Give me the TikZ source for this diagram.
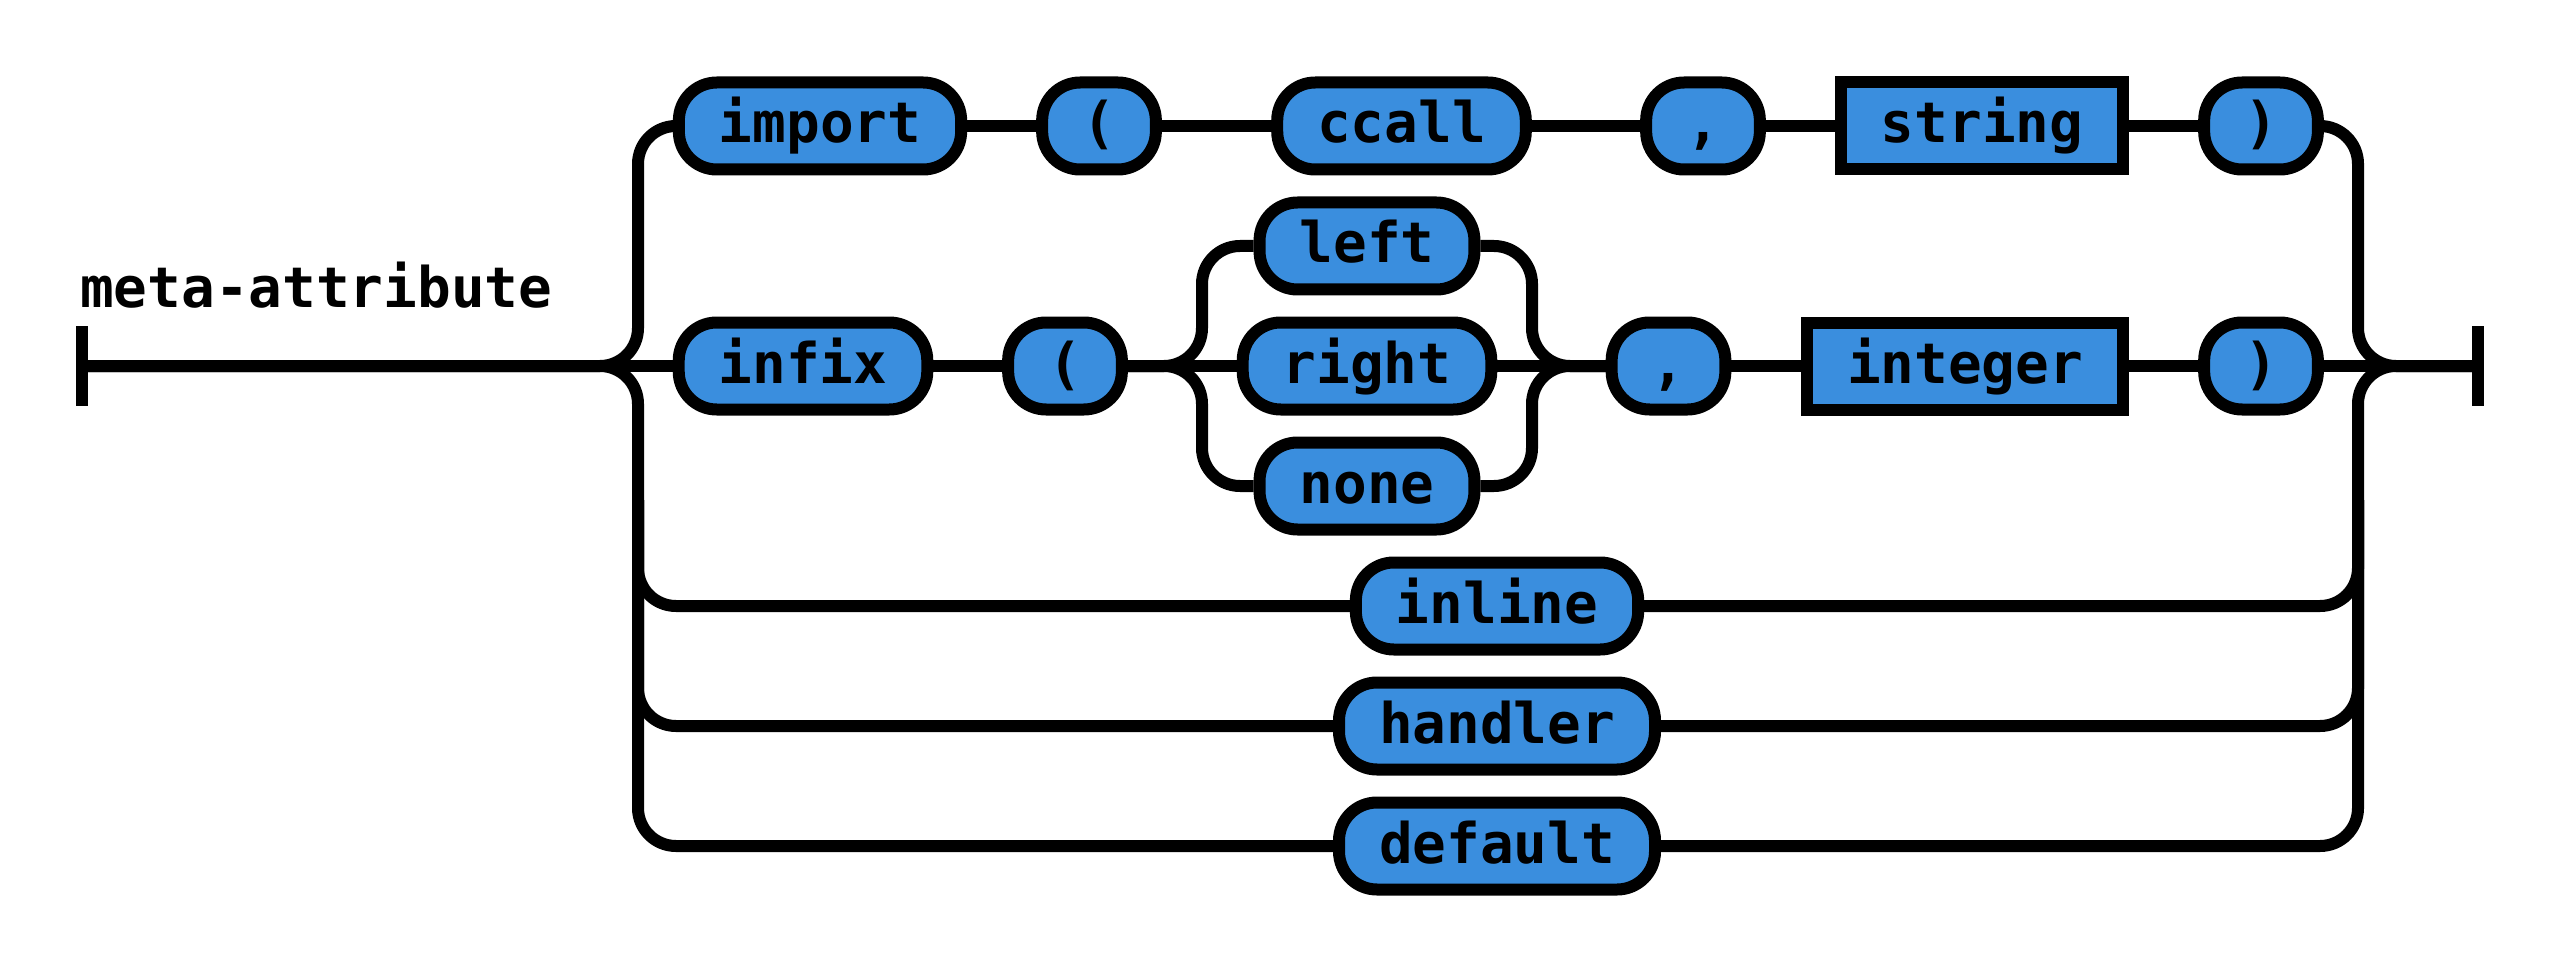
\documentclass[tikz,border=0pt]{standalone}
\usepackage{fontspec}
\setmonofont{DejaVu Sans Mono}
\usepackage{tikz}
\definecolor{railblue}{RGB}{58,142,222}
\tikzstyle{term} = [draw, fill=railblue, rectangle, rounded corners=38pt,
    line width=12pt, inner xsep=40pt, inner ysep=0pt,
    minimum height=87pt, text height=40pt, text depth=6pt]
\tikzstyle{nonterm} = [draw, fill=railblue, rectangle,
    line width=12pt, inner xsep=40pt, inner ysep=0pt,
    minimum height=87pt, text height=40pt, text depth=6pt]
\tikzstyle{rail} = [line width=12pt]
\tikzstyle{turnrail} = [line width=12pt, rounded corners=38pt]

\begin{document}
\begin{tikzpicture}[x=1pt, y=-1pt, font=\ttfamily\bfseries\fontsize{56}{60}\selectfont]
        \useasboundingbox (0,0) rectangle (2556,968);

        \node [anchor=base west, inner sep=0pt] (title) at (80,307) {meta-attribute};
        \coordinate (start) at (82,366);
        \coordinate (end) at (2478,366);
        \coordinate (ls) at (638,366);
        \coordinate (ld) at (638,500);
        \coordinate (rs) at (2358,366);
        \coordinate (rd) at (2358,500);

        \node [term] (import) at (820,126) {import};
        \node [term, right of=import, node distance=279pt] (lpar1) {(};
        \node [term, right of=lpar1, node distance=302.5pt] (ccall) {ccall};
        \node [term, right of=ccall, node distance=301.5pt] (comma1) {,};
        \node [nonterm, right of=comma1, node distance=279pt] (string) {string};
        \node [term, right of=string, node distance=279pt] (rpar1) {)};

        \node [term] (infix) at (803,366) {infix};
        \node [term, right of=infix, node distance=262pt] (lpar2) {(};
        \node [term, right of=lpar2, node distance=302pt] (right) {right};
        \node [term, above of=right, node distance=120pt] (left) {left};
        \node [term, below of=right, node distance=120pt] (none) {none};
        \node [term, right of=right, node distance=301.5pt] (comma2) {,};
        \node [nonterm, right of=comma2, node distance=296.5pt] (integer) {integer};
        \node [term, right of=integer, node distance=296pt] (rpar2) {)};

        \node [term] (inline) at (1497,606) {inline};
        \node [term, below of=inline, node distance=120pt] (handler) {handler};
        \node [term, below of=handler, node distance=120pt] (default) {default};

        \coordinate (cs) at (1202,366);
        \coordinate (cm) at (1532,366);

        \draw [rail] (start) ++(0,-40) -- ++(0,80);
        \draw [rail] (end) ++(0,-40) -- ++(0,80);

        \draw [rail] (import) -- (lpar1); \draw [rail] (lpar1) -- (ccall); \draw [rail] (ccall) -- (comma1); \draw [rail] (comma1) -- (string); \draw [rail] (string) -- (rpar1);
        \draw [rail] (start) -- (infix); \draw [rail] (infix) -- (lpar2); \draw [rail] (lpar2) -- (right); \draw [rail] (right) -- (comma2); \draw [rail] (comma2) -- (integer); \draw [rail] (integer) -- (rpar2); \draw [rail] (rpar2) -- (end);

        \draw [turnrail] (lpar2) -- (cs) |- (left); \draw [turnrail] (lpar2) -- (cs) |- (none);
        \draw [turnrail] (left) -| (cm) -- (comma2); \draw [turnrail] (none) -| (cm) -- (comma2);

        \draw [turnrail] (start) -- (ls) |- (import); \draw [turnrail] (rpar1) -| (rs) -- (end);
        \draw [turnrail] (start) -- (ls) |- (default); \draw [turnrail] (default) -| (rs) -- (end);
        \draw [turnrail] (ld) |- (inline); \draw [turnrail] (inline) -| (rd);
        \draw [turnrail] (ld) |- (handler); \draw [turnrail] (handler) -| (rd);
    \end{tikzpicture}
\end{document}
